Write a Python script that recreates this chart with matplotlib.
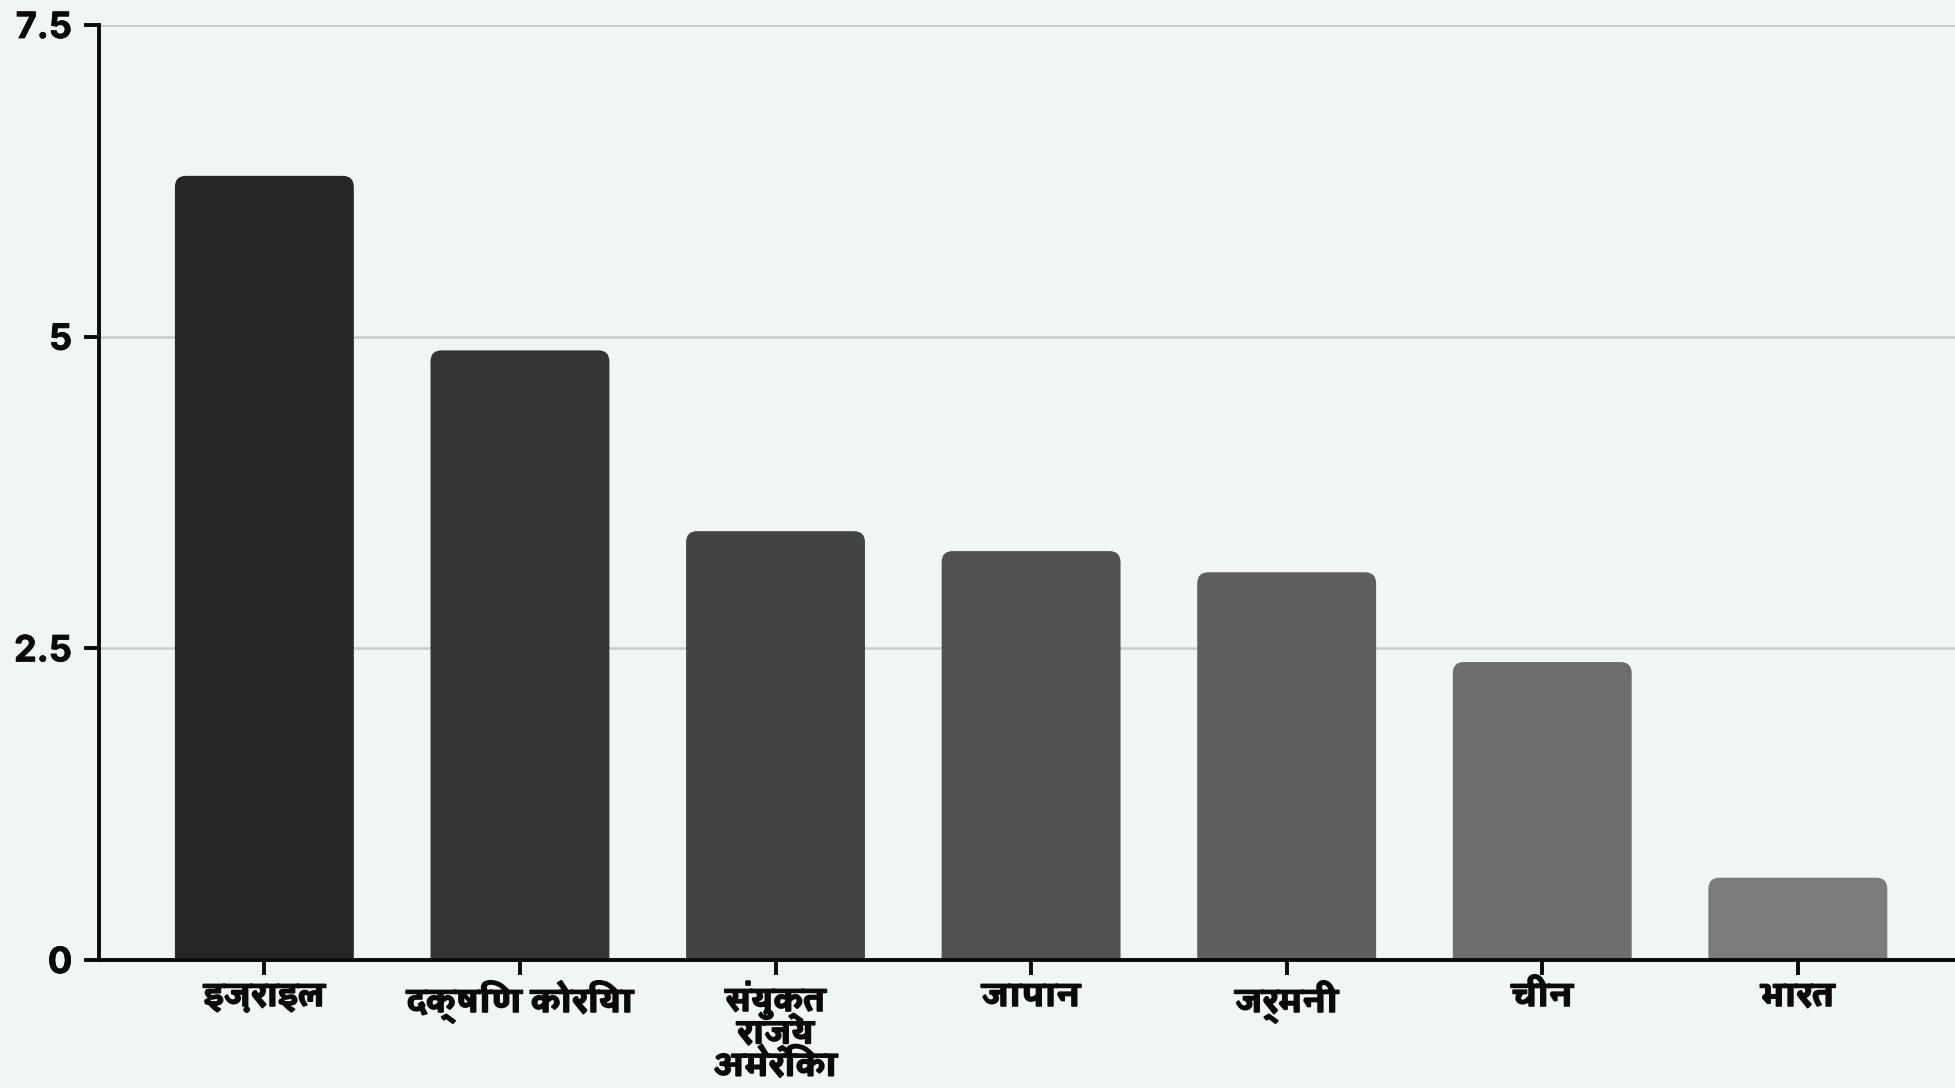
import matplotlib
matplotlib.use("Agg")
import matplotlib.pyplot as plt
from matplotlib import font_manager as fm
from matplotlib.ft2font import FT2Font
from matplotlib.patches import FancyBboxPatch
import matplotlib.patheffects as pe

# ---------------- data ----------------
categories = ["इज़राइल", "दक्षिण कोरिया", "संयुक्त\nराज्य\nअमेरिका", "जापान", "जर्मनी", "चीन", "भारत"]
values = [6.29, 4.89, 3.44, 3.28, 3.11, 2.39, 0.66]
bar_colors = ["#262626", "#353535", "#444444", "#515151", "#5f5f5f", "#6d6d6d", "#7b7b7b"]
yticks = [0, 2.5, 5, 7.5]
ytick_labels = ["0", "2.5", "5", "7.5"]

# ---------------- fonts ----------------
deva_fonts = []
for f in fm.fontManager.ttflist:
    try:
        cm = FT2Font(f.fname).get_charmap()
    except Exception:
        continue
    if 0x0907 in cm and 0x0930 in cm:
        deva_fonts.append(f)

def wnum(w):
    if isinstance(w, int):
        return w
    return {"bold": 700, "semibold": 600, "demibold": 600, "heavy": 800,
            "black": 900, "normal": 400, "regular": 400}.get(str(w).lower(), 400)

def score(f):
    s = abs(wnum(f.weight) - 700)
    if "serif" in f.name.lower() and "sans" not in f.name.lower():
        s += 50
    return s

deva_fonts.sort(key=score)
deva_family = [deva_fonts[0].name] if deva_fonts else []
label_family = deva_family + ["DejaVu Sans"]

BG = "#f0f5f5"
INK = "#0a0a0a"
fig = plt.figure(figsize=(19.55, 10.88), dpi=100, facecolor=BG)
ax = fig.add_axes([98.5 / 1955, 128 / 1088, 1 - 98.5 / 1955, (960 - 25) / 1088])
ax.set_facecolor(BG)

x = list(range(len(categories)))
bars = ax.bar(x, values, width=0.7, color=bar_colors)

# replace with top-rounded bars
px_per_x = 255.6
px_per_y = 124.7
r_px = 11
aspect = px_per_x / px_per_y
for b, c in zip(bars, bar_colors):
    b.set_visible(False)
    x0, w, h = b.get_x(), b.get_width(), b.get_height()
    ext = r_px * 1.5 / px_per_y
    p = FancyBboxPatch((x0, -ext), w, h + ext,
                       boxstyle=f"round,pad=0,rounding_size={r_px / px_per_x}",
                       mutation_aspect=aspect, facecolor=c, edgecolor="none",
                       clip_on=True, zorder=2)
    ax.add_patch(p)

ax.set_xlim(-0.649, 6.615)
ax.set_ylim(0, 7.5)

ax.set_yticks(yticks)
ax.set_yticklabels(ytick_labels, fontfamily=["Inter", "DejaVu Sans"], fontweight="bold", fontsize=26)
ax.set_xticks(x)
ax.set_xticklabels(categories, fontfamily=label_family, fontweight="bold", fontsize=24,
                   linespacing=0.85, va="top")
for t in ax.get_xticklabels():
    t.set_path_effects([pe.withStroke(linewidth=1.4, foreground=INK)])
for t in ax.get_yticklabels():
    t.set_path_effects([pe.withStroke(linewidth=0.6, foreground=INK)])

ax.yaxis.grid(True, color="#c8cccc", linewidth=1.8, zorder=0)
ax.set_axisbelow(True)

for s in ["top", "right"]:
    ax.spines[s].set_visible(False)
for s in ["left", "bottom"]:
    ax.spines[s].set_linewidth(2.8)
    ax.spines[s].set_color(INK)
    ax.spines[s].set_zorder(5)

ax.tick_params(axis="y", length=11, width=2.8, color=INK, pad=8, labelcolor=INK)
ax.tick_params(axis="x", length=11, width=2.8, color=INK, pad=4, labelcolor=INK)

fig.savefig("out.png", dpi=100, facecolor=BG)
